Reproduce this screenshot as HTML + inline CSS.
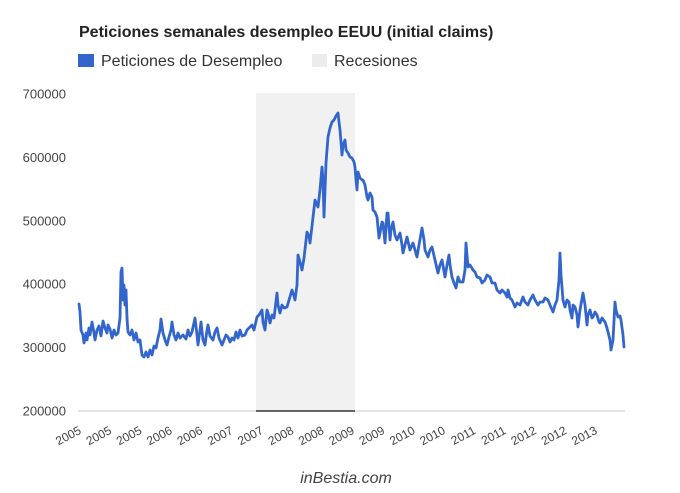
<!DOCTYPE html>
<html>
<head>
<meta charset="utf-8">
<style>
html,body{margin:0;padding:0;background:#fff;}
svg{display:block;}
text{font-family:"Liberation Sans",Arial,sans-serif;}
</style>
</head>
<body>
<svg width="680" height="493" viewBox="0 0 680 493" xmlns="http://www.w3.org/2000/svg">
<rect x="0" y="0" width="680" height="493" fill="#fff"/>
<!-- Title -->
<text x="79" y="37" font-size="16" font-weight="bold" fill="#222">Peticiones semanales desempleo EEUU (initial claims)</text>
<!-- Legend -->
<rect x="78" y="54" width="16" height="13" fill="#3366cc"/>
<text x="101" y="66" font-size="16" fill="#333">Peticiones de Desempleo</text>
<rect x="312" y="54" width="15" height="13" fill="#ececec"/>
<text x="334" y="66" font-size="16" fill="#333">Recesiones</text>
<!-- Recession band -->
<rect x="256" y="93" width="99" height="318" fill="#f1f1f1"/>
<!-- baseline -->
<line x1="78" y1="411" x2="625" y2="411" stroke="#cccccc" stroke-width="1"/>
<line x1="256" y1="411" x2="355" y2="411" stroke="#333" stroke-width="1.5"/>
<!-- Y labels -->
<g font-size="13" fill="#444" text-anchor="end">
<text x="66" y="98.5">700000</text>
<text x="66" y="162">600000</text>
<text x="66" y="225.3">500000</text>
<text x="66" y="288.7">400000</text>
<text x="66" y="352.1">300000</text>
<text x="66" y="415.5">200000</text>
</g>
<!-- X labels -->
<g font-size="12" fill="#444" text-anchor="end">
<text x="82" y="433" transform="rotate(-28 82 433)">2005</text>
<text x="112.4" y="433" transform="rotate(-28 112.4 433)">2005</text>
<text x="142.7" y="433" transform="rotate(-28 142.7 433)">2005</text>
<text x="173" y="433" transform="rotate(-28 173 433)">2006</text>
<text x="203.4" y="433" transform="rotate(-28 203.4 433)">2006</text>
<text x="233.8" y="433" transform="rotate(-28 233.8 433)">2007</text>
<text x="264.1" y="433" transform="rotate(-28 264.1 433)">2007</text>
<text x="294.5" y="433" transform="rotate(-28 294.5 433)">2008</text>
<text x="324.8" y="433" transform="rotate(-28 324.8 433)">2008</text>
<text x="355.2" y="433" transform="rotate(-28 355.2 433)">2009</text>
<text x="385.5" y="433" transform="rotate(-28 385.5 433)">2009</text>
<text x="415.9" y="433" transform="rotate(-28 415.9 433)">2010</text>
<text x="446.2" y="433" transform="rotate(-28 446.2 433)">2010</text>
<text x="476.6" y="433" transform="rotate(-28 476.6 433)">2011</text>
<text x="506.9" y="433" transform="rotate(-28 506.9 433)">2011</text>
<text x="537.3" y="433" transform="rotate(-28 537.3 433)">2012</text>
<text x="567.6" y="433" transform="rotate(-28 567.6 433)">2012</text>
<text x="598" y="433" transform="rotate(-28 598 433)">2013</text>
</g>
<!-- Series -->
<polyline fill="none" stroke="#3366cc" stroke-width="2.8" stroke-linejoin="round" stroke-linecap="round" points="
79,304 80,312 81,330 83,335 84,343 86,333 87,340 89,328 90,335 92,322 94,333 95,340 97,330 99,326 101,336 103,321 105,328 107,333 108,325 110,329 112,338 114,330 116,335 118,333 120,318 121,272 122,268 123,300 124,285 125,305 126,290 127,318 128,332 130,335 132,330 134,340 136,333 138,342 140,340 142,355 144,357 146,352 148,357 150,350 152,355 154,346 156,348 158,338 160,330 161,319 163,333 165,340 167,345 169,337 171,330 172,322 174,335 176,340 178,333 180,338 183,335 186,339 188,330 190,336 192,332 195,318 197,335 198,345 200,330 201,322 203,340 205,345 207,330 208,325 210,336 213,340 215,332 217,328 219,338 222,345 224,340 226,335 228,337 230,342 232,338 234,340 236,332 238,338 240,330 242,336 245,335 247,330 250,327 252,325 254,330 257,317 259,315 262,310 263,322 265,330 267,310 268,313 270,323 272,315 274,318 277,293 278,305 280,313 282,305 284,308 287,307 289,300 292,290 294,296 295,300 297,285 298,255 300,262 302,270 304,258 307,232 309,236 310,243 312,226 315,200 317,205 318,207 320,190 322,167 323,180 324,217 325,190 326,163 328,137 330,128 332,122 334,120 335,118 336,116 338,113 339,122 340,130 341,142 342,155 343,145 345,140 346,150 348,153 350,157 352,158 354,162 355,167 356,180 357,190 358,172 360,178 362,180 363,180 365,185 367,197 368,200 370,193 372,197 373,210 375,212 377,217 379,238 380,233 382,222 383,223 385,243 387,213 388,213 390,240 391,230 393,222 395,235 397,240 400,233 402,245 403,253 405,245 407,237 410,250 413,243 415,250 417,257 419,245 422,228 424,240 425,250 428,257 430,250 432,247 435,260 438,273 440,265 442,260 445,277 447,265 449,255 450,265 452,277 454,283 456,288 458,277 460,282 463,282 465,270 466,243 467,255 468,267 470,265 473,270 475,272 477,277 480,278 482,283 485,280 487,275 490,277 492,283 495,283 497,290 500,293 502,290 505,293 507,297 508,290 510,298 512,300 515,307 517,303 520,305 523,297 525,302 528,305 530,300 533,295 535,300 538,305 540,302 543,302 545,298 548,300 550,305 553,312 555,305 557,300 559,280 560,253 561,275 563,300 565,307 567,300 569,302 570,310 572,318 573,305 575,307 577,315 578,327 580,310 583,293 585,305 587,325 588,315 590,310 592,318 593,317 595,312 597,315 599,322 600,323 602,318 605,322 607,328 608,332 610,340 611,350 612,345 613,340 615,302 616,310 618,317 620,316 621,320 623,335 624,347"/>
<!-- Footer -->
<text x="346" y="483" font-size="16" font-style="italic" fill="#444" text-anchor="middle">inBestia.com</text>
</svg>
</body>
</html>
